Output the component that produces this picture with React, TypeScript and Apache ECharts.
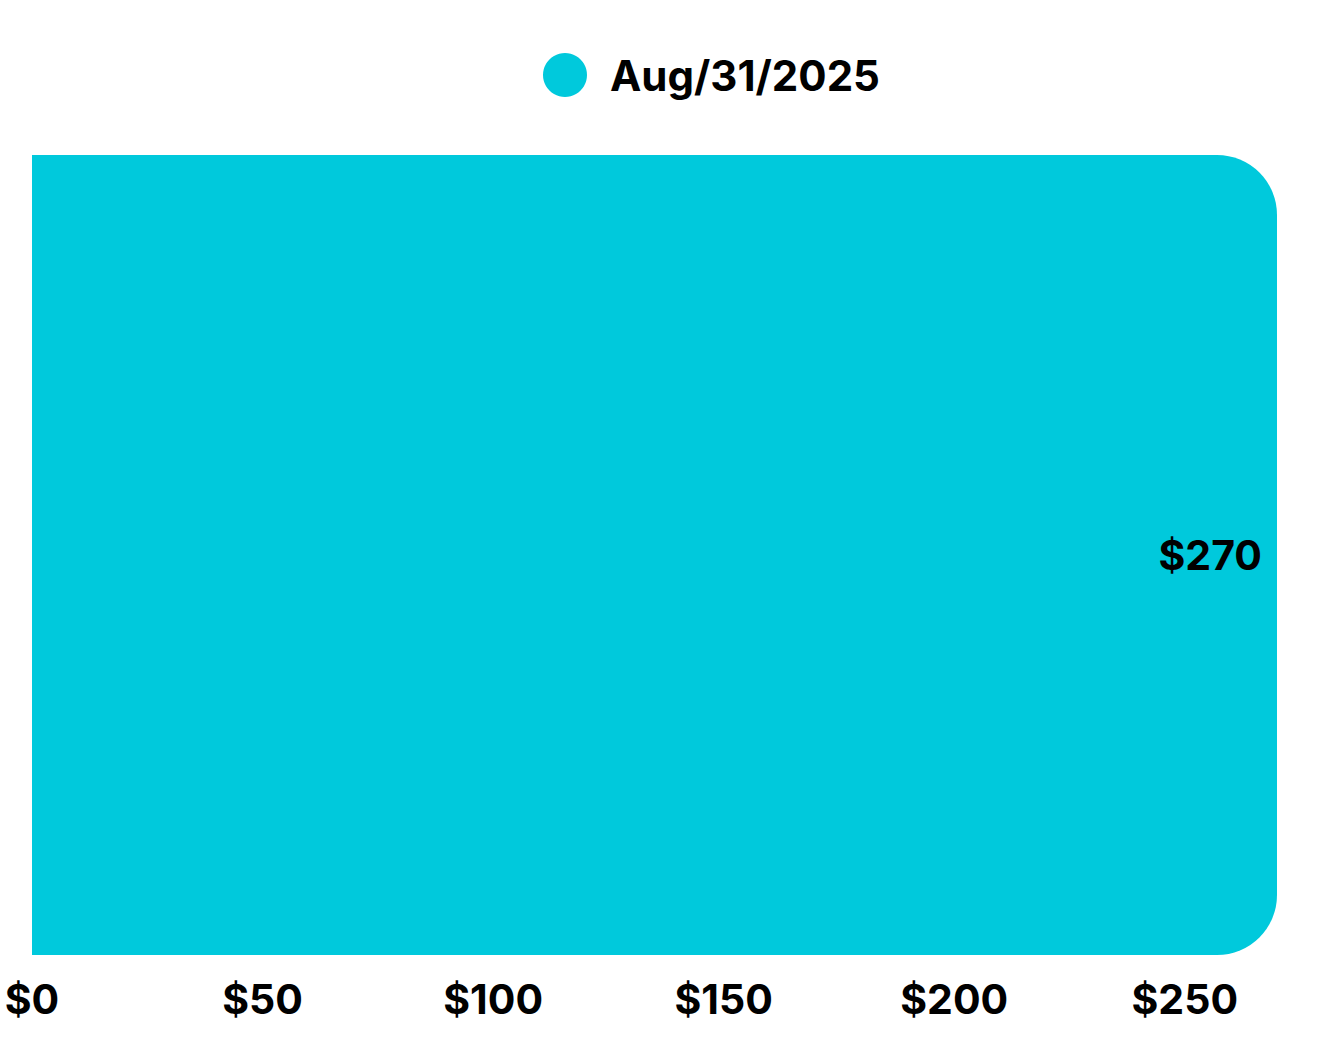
import React, { useEffect, useRef } from "react";
import * as echarts from "echarts";

const categories = ["Aug/31/2025"];
const seriesName = "Aug/31/2025";
const values = [270];
const axisMax = 270;
const tickInterval = 50;

const FONT = "Inter";

export default function App() {
  const ref = useRef<HTMLDivElement>(null);
  useEffect(() => {
    if (!ref.current) return;
    const chart = echarts.init(ref.current, undefined, { renderer: "svg" });
    chart.setOption({
      animation: false,
      backgroundColor: "#ffffff",
      legend: {
        data: [seriesName],
        left: 538,
        top: 48,
        icon: "circle",
        itemWidth: 44,
        itemHeight: 44,
        textStyle: {
          fontFamily: FONT,
          fontWeight: "bold",
          fontSize: 42,
          color: "#000000",
          padding: [0, 0, 0, 18],
        },
      },
      grid: { left: 32, right: 55, top: 155, bottom: 96, containLabel: false },
      xAxis: {
        type: "value",
        min: 0,
        max: axisMax,
        interval: tickInterval,
        axisLine: { show: false },
        axisTick: { show: false },
        splitLine: { show: false },
        axisLabel: {
          showMaxLabel: false,
          margin: 23,
          fontFamily: FONT,
          fontWeight: "bold",
          fontSize: 41,
          color: "#000000",
          formatter: (v: number) => "$" + v,
        },
      },
      yAxis: {
        type: "category",
        data: categories,
        show: false,
      },
      series: [
        {
          name: seriesName,
          type: "bar",
          data: values,
          barWidth: "100%",
          itemStyle: { color: "#00C9DC", borderRadius: [0, 60, 60, 0] },
          label: {
            show: true,
            position: "insideRight",
            distance: 15,
            fontFamily: FONT,
            fontWeight: "bold",
            fontSize: 41,
            color: "#000000",
            formatter: (p: any) => "$" + p.value,
          },
        },
      ],
    });
    return () => chart.dispose();
  }, []);
  return (
    <div
      ref={ref}
      style={{ position: "fixed", left: 0, top: 0, width: 1332, height: 1051 }}
    />
  );
}
